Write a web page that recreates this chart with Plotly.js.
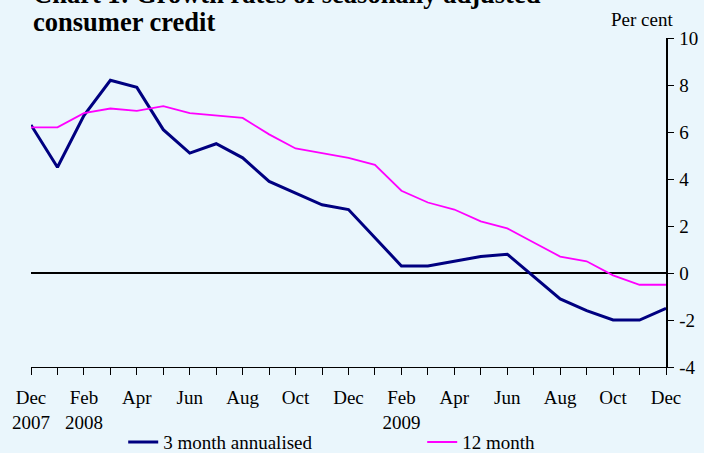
<!DOCTYPE html>
<html>
<head>
<meta charset="utf-8">
<script src="https://cdn.plot.ly/plotly-3.0.1.min.js"></script>
<style>html,body{margin:0;padding:0;background:#eaf6fc;}#chart{width:704px;height:453px;}</style>
</head>
<body>
<div id="chart"></div>
<script>
var months = ["Dec 2007","Jan 2008","Feb 2008","Mar 2008","Apr 2008","May 2008","Jun 2008","Jul 2008","Aug 2008","Sep 2008","Oct 2008","Nov 2008","Dec 2008",
              "Jan 2009","Feb 2009","Mar 2009","Apr 2009","May 2009","Jun 2009","Jul 2009","Aug 2009","Sep 2009","Oct 2009","Nov 2009","Dec 2009"];
var threeMonth = [6.3,4.5,6.7,8.2,7.9,6.1,5.1,5.5,4.9,3.9,3.4,2.9,2.7,1.5,0.3,0.3,0.5,0.7,0.8,-0.15,-1.1,-1.6,-2.0,-2.0,-1.5];
var twelveMonth = [6.2,6.2,6.8,7.0,6.9,7.1,6.8,6.7,6.6,5.9,5.3,5.1,4.9,4.6,3.5,3.0,2.7,2.2,1.9,1.3,0.7,0.5,-0.1,-0.5,-0.5];
var xTickText = ["Dec<br>2007","","Feb<br>2008","","Apr","","Jun","","Aug","","Oct","","Dec","","Feb<br>2009","","Apr","","Jun","","Aug","","Oct","","Dec"];
var yTickVals = [-4,-2,0,2,4,6,8,10];
var yTickText = ["-4","-2","0","2","4","6","8","10"];
var seriesNames = ["3 month annualised","12 month"];
var titleLines = ["Chart 1: Growth rates of seasonally adjusted","consumer credit"];
var unitLabel = "Per cent";

var serif = "Liberation Serif";
var traces = [
  {x: months, y: threeMonth, type: "scatter", mode: "lines", name: seriesNames[0],
   line: {color: "#000080", width: 3}},
  {x: months, y: twelveMonth, type: "scatter", mode: "lines", name: seriesNames[1],
   line: {color: "#ff00ff", width: 1.8}}
];
var layout = {
  width: 704, height: 453,
  paper_bgcolor: "#eaf6fc", plot_bgcolor: "#eaf6fc",
  margin: {l: 31, r: 38, t: 38, b: 86},
  font: {family: serif, size: 19, color: "#000"},
  showlegend: true,
  legend: {orientation: "h", xref: "container", yref: "container", x: 0.175, y: 0.024,
           xanchor: "left", yanchor: "middle", bgcolor: "rgba(0,0,0,0)",
           font: {family: serif, size: 19, color: "#000"}, entrywidth: 254, entrywidthmode: "pixels",
           tracegroupgap: 0},
  xaxis: {type: "category", range: [0, 24], tickmode: "array", tickvals: months, ticktext: xTickText,
          ticks: "outside", ticklen: 7, tickcolor: "#000", showline: true, linecolor: "#000", linewidth: 1,
          showgrid: false, zeroline: false, tickangle: 0, fixedrange: true, ticklabelstandoff: 6,
          tickfont: {family: serif, size: 19}},
  yaxis: {side: "right", range: [-4, 10], tickmode: "array", tickvals: yTickVals, ticktext: yTickText,
          ticks: "outside", ticklen: 6, tickcolor: "#000", showline: true, linecolor: "#000", linewidth: 1.5,
          showgrid: false, zeroline: true, zerolinecolor: "#000", zerolinewidth: 2, ticklabelstandoff: 2,
          tickfont: {family: serif, size: 19}, fixedrange: true},
  annotations: [
    {text: "<b>" + titleLines[0] + "</b>", xref: "paper", yref: "paper", x: 0, y: 1, xanchor: "left", yanchor: "bottom",
     yshift: 27, showarrow: false, font: {family: serif, size: 26.5}},
    {text: "<b>" + titleLines[1] + "</b>", xref: "paper", yref: "paper", x: 0, y: 1, xanchor: "left", yanchor: "bottom",
     yshift: -1, showarrow: false, font: {family: serif, size: 26.5}},
    {text: unitLabel, xref: "paper", yref: "paper", x: 1, y: 1, xanchor: "center", yanchor: "bottom",
     xshift: -24, yshift: 6, showarrow: false, font: {family: serif, size: 19}}
  ]
};
Plotly.newPlot("chart", traces, layout, {displayModeBar: false, staticPlot: true});
</script>
</body>
</html>
